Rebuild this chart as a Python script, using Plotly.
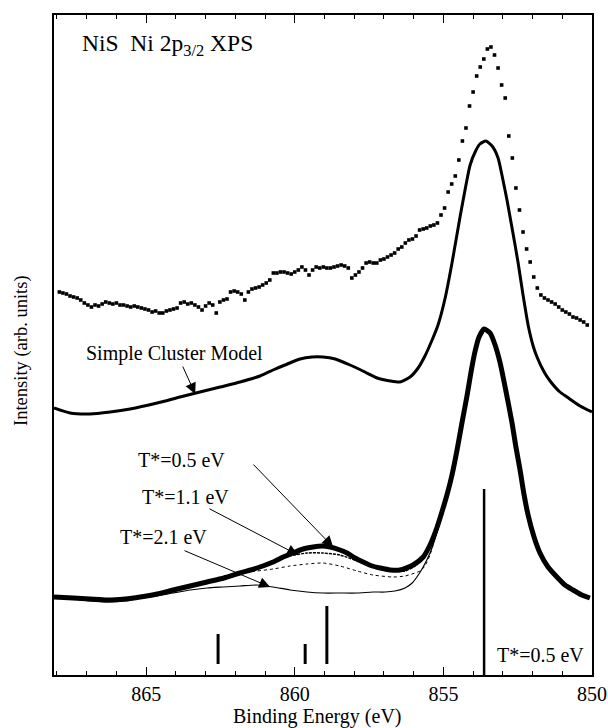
import plotly.graph_objects as go

FONT = "Liberation Serif"

# ---- measured Ni 2p3/2 XPS spectrum (binding energy in eV, intensity arb.) ----
exp_energy = [
    867.92, 867.80, 867.68, 867.56, 867.44, 867.32, 867.20, 867.08, 866.96, 866.84,
    866.72, 866.60, 866.48, 866.36, 866.24, 866.12, 866.00, 865.88, 865.76, 865.64,
    865.52, 865.40, 865.28, 865.16, 865.04, 864.92, 864.80, 864.68, 864.56, 864.44,
    864.32, 864.20, 864.08, 863.96, 863.84, 863.72, 863.60, 863.48, 863.36, 863.24,
    863.12, 863.00, 862.88, 862.76, 862.64, 862.52, 862.40, 862.28, 862.16, 862.04,
    861.92, 861.80, 861.68, 861.56, 861.44, 861.32, 861.20, 861.08, 860.96, 860.84,
    860.72, 860.60, 860.48, 860.36, 860.24, 860.12, 860.00, 859.88, 859.76, 859.64,
    859.52, 859.40, 859.28, 859.16, 859.04, 858.92, 858.80, 858.68, 858.56, 858.44,
    858.32, 858.20, 858.08, 857.96, 857.84, 857.72, 857.60, 857.48, 857.36, 857.24,
    857.12, 857.00, 856.88, 856.76, 856.64, 856.52, 856.40, 856.28, 856.16, 856.04,
    855.92, 855.80, 855.68, 855.56, 855.44, 855.32, 855.20, 855.08, 854.96, 854.84,
    854.72, 854.60, 854.48, 854.36, 854.24, 854.12, 854.00, 853.88, 853.76, 853.64,
    853.52, 853.40, 853.28, 853.16, 853.04, 852.92, 852.80, 852.68, 852.56, 852.44,
    852.32, 852.20, 852.08, 851.96, 851.84, 851.72, 851.60, 851.48, 851.36, 851.24,
    851.12, 851.00, 850.88, 850.76, 850.64, 850.52, 850.40, 850.28, 850.16,
]
exp_counts = [
    383, 382, 381, 379, 378, 377, 375, 372, 370, 368,
    370, 369, 371, 373, 372, 371, 372, 370, 370, 369,
    368, 369, 368, 367, 366, 365, 363, 364, 362, 362,
    364, 365, 366, 367, 372, 373, 371, 372, 370, 368,
    365, 369, 372, 370, 362, 373, 375, 376, 383, 384,
    383, 381, 375, 383, 386, 387, 388, 390, 392, 395,
    402, 402, 403, 403, 402, 401, 403, 405, 408, 405,
    400, 405, 408, 407, 408, 407, 407, 408, 409, 410,
    409, 407, 397, 400, 403, 407, 412, 413, 412, 412,
    415, 416, 418, 420, 422, 426, 428, 432, 435, 436,
    439, 445, 446, 447, 449, 450, 452, 460, 467, 483,
    491, 499, 515, 534, 547, 569, 583, 599, 608, 616,
    626, 628, 620, 607, 590, 577, 539, 517, 487, 465,
    443, 426, 413, 398, 387, 380, 377, 375, 373, 371,
    368, 365, 363, 361, 358, 357, 355, 353, 350,
]

# ---- simple cluster model ----
cluster_energy = [
    868.10, 867.56, 866.89, 866.21, 865.54, 864.63, 863.86, 863.19, 862.51, 861.84,
    861.17, 860.73, 860.33, 859.82, 859.42, 859.05, 858.64, 858.14, 857.64, 857.23,
    856.79, 856.46, 856.12, 855.85, 855.62, 855.38, 855.18, 854.94, 854.71, 854.44,
    854.24, 854.10, 853.90, 853.77, 853.57, 853.36, 853.16, 853.03, 852.86, 852.69,
    852.49, 852.32, 852.15, 851.98, 851.85, 851.61, 851.41, 851.08, 850.84, 850.40,
    850.00,
]
cluster_int = [
    267, 262, 261, 263, 266, 272, 278, 283, 288, 293,
    299, 305, 310, 316, 318, 318, 316, 310, 303, 297,
    294, 293, 298, 307, 319, 335, 350, 377, 412, 458,
    490, 510, 525, 531, 534, 529, 517, 500, 475, 447,
    413, 380, 350, 329, 318, 303, 294, 283, 278, 269,
    263,
]

# ---- impurity-model spectra for several T* values ----
t05_energy = [
    868.10, 867.46, 866.89, 866.31, 865.71, 865.20, 864.63, 864.09, 863.52, 862.95,
    862.38, 861.84, 861.27, 860.73, 860.39, 860.06, 859.72, 859.38, 859.08, 858.81,
    858.48, 858.24, 857.97, 857.70, 857.40, 857.13, 856.79, 856.46, 856.02, 855.68,
    855.45, 855.21, 855.05, 854.88, 854.71, 854.54, 854.37, 854.20, 854.07, 853.94,
    853.80, 853.63, 853.43, 853.26, 853.09, 852.89, 852.69, 852.56, 852.42, 852.29,
    852.15, 851.95, 851.75, 851.48, 851.18, 850.91, 850.64, 850.34, 850.07,
]
t05_int = [
    78, 77, 76, 75, 76, 78, 81, 85, 89, 93,
    97, 102, 107, 113, 118, 122, 126, 128, 129, 128,
    125, 122, 117, 113, 109, 107, 105, 105, 110, 118,
    130, 148, 163, 180, 200, 225, 253, 280, 303, 323,
    338, 346, 342, 330, 312, 283, 252, 228, 205, 181,
    160, 138, 122, 108, 98, 90, 85, 80, 77,
]

t11_energy = [
    861.84, 861.27, 860.73, 860.39, 860.16, 859.59, 859.05, 858.48, 857.90, 857.37,
    856.69, 856.29, 855.95, 855.68, 855.45, 855.21, 854.88,
]
t11_int = [
    102, 107, 113, 117, 119, 122, 122, 120, 114, 108,
    104, 104, 109, 116, 129, 148, 180,
]

tmid_energy = [
    861.84, 861.27, 860.73, 860.16, 859.59, 859.05, 858.48, 857.90, 857.37, 856.69,
    856.29, 855.79, 855.62, 855.45, 855.25, 855.05, 854.88,
]
tmid_int = [
    102, 104, 106, 109, 111, 112, 109, 104, 100, 98,
    99, 104, 109, 120, 140, 160, 180,
]

t21_energy = [
    868.10, 867.46, 866.89, 866.31, 865.71, 865.20, 864.63, 864.09, 863.52, 862.95,
    862.41, 861.84, 861.27, 860.73, 860.16, 859.59, 859.05, 858.48, 857.90, 857.37,
    856.96, 856.63, 856.29, 856.05, 855.89, 855.68, 855.45, 855.25, 855.08, 854.88,
]
t21_int = [
    77, 76, 74, 73, 74, 77, 79, 82, 85, 87,
    88, 89, 90, 88, 85, 83, 82, 82, 82, 83,
    83, 84, 87, 92, 98, 108, 122, 139, 157, 180,
]

# ---- final-state line spectrum (T* = 0.5 eV) ----
stick_energy = [862.58, 859.65, 858.92, 853.63]
stick_top = [41, 31, 69, 186]
stick_base = [11, 11, 11, 0]
stick_width = [3, 3, 3, 2.5]

X_RANGE = [868.1, 850.0]
Y_RANGE = [0, 660]

SMOOTH = 0.6

fig = go.Figure()

# measured points
fig.add_trace(go.Scatter(
    x=exp_energy, y=exp_counts, mode="markers",
    marker=dict(symbol="square", size=3.6, color="black", line=dict(width=0)),
    hoverinfo="skip",
))

# cluster model curve
fig.add_trace(go.Scatter(
    x=cluster_energy, y=cluster_int, mode="lines",
    line=dict(color="black", width=3, shape="spline", smoothing=SMOOTH),
))

# thinner T* curves first so the thick one sits on top
fig.add_trace(go.Scatter(
    x=t21_energy, y=t21_int, mode="lines",
    line=dict(color="black", width=1.2, shape="spline", smoothing=SMOOTH),
))
fig.add_trace(go.Scatter(
    x=tmid_energy, y=tmid_int, mode="lines",
    line=dict(color="black", width=1, dash="dot", shape="spline", smoothing=SMOOTH),
))
fig.add_trace(go.Scatter(
    x=t11_energy, y=t11_int, mode="lines",
    line=dict(color="black", width=1.5, dash="3px,1px", shape="spline", smoothing=SMOOTH),
))
fig.add_trace(go.Scatter(
    x=t05_energy, y=t05_int, mode="lines",
    line=dict(color="black", width=5, shape="spline", smoothing=SMOOTH),
))

# stick spectrum
for e, top, base, w in zip(stick_energy, stick_top, stick_base, stick_width):
    fig.add_trace(go.Scatter(
        x=[e, e], y=[base, top], mode="lines",
        line=dict(color="black", width=w), hoverinfo="skip",
    ))

txt = dict(family=FONT, size=20, color="black")

annotations = [
    # panel label
    dict(x=0.048, y=0.9545, xref="paper", yref="paper", xanchor="left", yanchor="middle",
         text="NiS\u00a0\u00a0Ni 2p<sub>3/2</sub> XPS", showarrow=False,
         font=dict(family=FONT, size=23.5, color="black")),
    # curve labels
    dict(x=864.03, y=322, text="Simple Cluster Model", showarrow=False, font=txt),
    dict(x=863.82, y=215, text="T*=0.5 eV", showarrow=False, font=txt),
    dict(x=863.66, y=178, text="T*=1.1 eV", showarrow=False, font=txt),
    dict(x=864.43, y=138, text="T*=2.1 eV", showarrow=False, font=txt),
    dict(x=851.72, y=20, text="T*=0.5 eV", showarrow=False, font=txt),
    # axis titles
    dict(x=0.49, y=0, xref="paper", yref="paper", xanchor="center", yanchor="middle",
         yshift=-41, text="Binding Energy (eV)", showarrow=False,
         font=dict(family=FONT, size=20, color="black")),
    dict(x=0, y=0.491, xref="paper", yref="paper", xanchor="center", yanchor="middle",
         xshift=-32, textangle=-90, text="Intensity (arb. units)", showarrow=False,
         font=dict(family=FONT, size=18.5, color="black")),
]

# pointer arrows (head, tail) in data coordinates
arrows = [
    ((863.35, 281), (863.79, 310)),
    ((858.71, 128), (861.44, 212)),
    ((859.89, 120), (862.92, 167)),
    ((860.83, 88), (863.76, 125)),
]
for (hx, hy), (tx, ty) in arrows:
    annotations.append(dict(
        x=hx, y=hy, ax=tx, ay=ty, xref="x", yref="y", axref="x", ayref="y",
        text="", showarrow=True, arrowhead=2, arrowsize=2.2, arrowwidth=1,
        arrowcolor="black",
    ))

fig.update_layout(
    width=608, height=728,
    margin=dict(l=54, r=16, t=15, b=53, autoexpand=False),
    paper_bgcolor="white", plot_bgcolor="white",
    showlegend=False,
    font=dict(family=FONT, size=20, color="black"),
    annotations=annotations,
)

fig.update_xaxes(
    range=X_RANGE, showgrid=False, zeroline=False, automargin=False,
    showline=True, linewidth=2, linecolor="black", mirror="ticks",
    ticks="inside", ticklen=8, tickwidth=1.3, tickcolor="black",
    tick0=850, dtick=5,
    minor=dict(ticks="inside", ticklen=4, tickwidth=1.3, tickcolor="black", dtick=1),
    tickfont=dict(family=FONT, size=20, color="black"),
)
fig.update_yaxes(
    range=Y_RANGE, showgrid=False, zeroline=False, automargin=False,
    showline=True, linewidth=2, linecolor="black", mirror=True,
    ticks="", showticklabels=False,
)

fig.write_html("out.html")
